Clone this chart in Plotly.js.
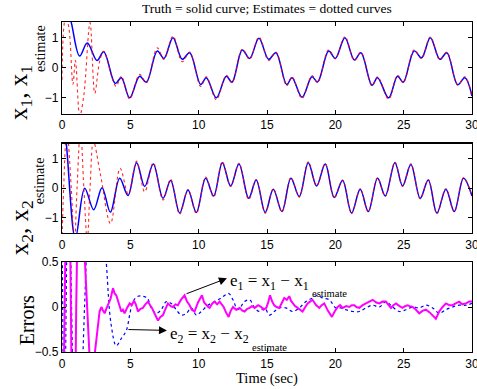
<!DOCTYPE html>
<html>
<head>
<meta charset="utf-8">
<script src="https://cdn.plot.ly/plotly-3.0.1.min.js"></script>
<style>html,body{margin:0;padding:0;background:#fff;}#chart{width:477px;height:389px;}</style>
</head>
<body>
<div id="chart"></div>
<script>
// ---- Subplot 1: x1 truth and estimate ----
const t_x1 = [0,0.3,0.68,1.29,1.85,2.56,3.05,3.9,4.34,4.95,5.68,6.17,6.97,7.46,8.12,8.8,9.34,10.15,10.56,11.29,12.02,12.44,13.19,13.73,14.41,15.12,15.65,16.44,16.83,17.56,18.29,18.7,19.51,20.0,20.7,21.39,21.87,22.68,23.09,23.9,24.55,24.97,25.77,26.31,26.95,27.65,28.16,28.95,29.48,30.0];
const x1_truth = [2.4,2.1,1.5,0.39,0.82,0.24,0.53,-0.52,-0.33,-1.0,-0.28,-0.48,0.56,0.31,1.0,0.28,0.5,-0.56,-0.33,-1.0,-0.28,-0.48,0.59,0.31,0.98,0.28,0.5,-0.56,-0.33,-0.98,-0.3,-0.47,0.56,0.31,1.0,0.26,0.5,-0.58,-0.33,-1.0,-0.28,-0.48,0.56,0.33,1.0,0.28,0.5,-0.56,-0.33,-0.94];
const t_x1e = [0,0.25,0.45,0.8,0.98,1.3,1.6,2.05,2.4,2.75,3.05,3.95,4.34,4.95,5.68,6.17,6.97,7.46,8.12,8.8,9.34,10.15,10.56,11.29,12.02,12.44,13.19,13.73,14.41,15.12,15.65,16.44,16.83,17.56,18.29,18.7,19.51,20.0,20.7,21.39,21.87,22.68,23.09,23.9,24.55,24.97,25.77,26.31,26.95,27.65,28.16,28.95,29.48,30.0];
const x1_est = [-0.4,1.6,1.45,-0.55,0.25,-1.6,-0.9,1.5,-0.85,0.2,0.55,-0.62,-0.28,-1.04,-0.22,-0.5,0.66,0.28,1.05,0.2,0.52,-0.62,-0.3,-1.06,-0.25,-0.5,0.62,0.28,1.02,0.24,0.52,-0.6,-0.3,-1.02,-0.26,-0.5,0.6,0.3,1.03,0.24,0.52,-0.6,-0.3,-1.04,-0.25,-0.5,0.6,0.3,1.03,0.26,0.52,-0.58,-0.3,-0.96];

// ---- Subplot 2: x2 truth and estimate ----
const t_x2 = [0,0.32,0.98,1.66,2.32,2.93,3.54,4.22,4.83,5.46,6.05,6.68,7.39,7.95,8.61,9.22,9.83,10.51,11.1,11.73,12.34,12.95,13.66,14.21,14.87,15.46,16.09,16.75,17.36,18.02,18.63,19.26,19.92,20.53,21.19,21.82,22.41,23.09,23.65,24.36,24.92,25.53,26.21,26.8,27.43,28.09,28.7,29.38,30.0];
const x2_truth = [2.8,1.5,-1.7,0.0,-0.73,0.02,-0.81,0.34,-0.25,0.87,0.06,0.82,-0.34,0.26,-0.84,-0.06,-0.82,0.34,-0.26,0.87,0.08,0.82,-0.34,0.28,-0.82,-0.03,-0.79,0.34,-0.28,0.87,0.08,0.82,-0.31,0.26,-0.84,-0.03,-0.79,0.34,-0.26,0.87,0.08,0.81,-0.34,0.28,-0.84,-0.03,-0.79,0.34,-0.26];
const t_x2e = [0,0.12,0.35,0.68,0.9,1.1,1.35,1.6,1.85,2.05,2.3,2.8,3.55,4.25,4.85,5.46,6.05,6.68,7.39,7.95,8.61,9.22,9.83,10.51,11.1,11.73,12.34,12.95,13.66,14.21,14.87,15.46,16.09,16.75,17.36,18.02,18.63,19.26,19.92,20.53,21.19,21.82,22.41,23.09,23.65,24.36,24.92,25.53,26.21,26.8,27.43,28.09,28.7,29.38,30.0];
const x2_est = [-1.8,0,2.0,0,-2.0,0,2.0,0,-1.8,0,1.6,0.5,-1.2,0.68,-0.2,0.92,-0.12,0.86,-0.4,0.3,-0.88,-0.04,-0.86,0.38,-0.3,0.9,0.06,0.85,-0.38,0.3,-0.85,-0.02,-0.8,0.36,-0.3,0.9,0.08,0.84,-0.33,0.28,-0.86,-0.02,-0.8,0.36,-0.28,0.89,0.07,0.83,-0.36,0.3,-0.86,-0.02,-0.8,0.36,-0.28];

// ---- Subplot 3: errors ----
const t_e1 = [0,0.2,0.43,0.65,0.85,1.04,1.3,1.68,2.0,2.2,2.41,2.75,2.88,3.0,3.12,3.24,3.36,3.55,3.73,3.85,3.97,4.15,4.34,4.46,4.58,4.76,4.95,5.1,5.27,5.4,5.56,5.74,5.92,6.1,6.29,6.45,6.58,6.8,7.02,7.2,7.39,7.55,7.75,7.95,8.12,8.3,8.48,8.7,8.97,9.15,9.34,9.5,9.7,9.95,10.24,10.4,10.56,10.7,10.8,11.0,11.17,11.35,11.53,11.7,11.83,12.0,12.19,12.35,12.51,12.75,13.0,13.2,13.36,13.55,13.73,13.9,14.1,14.35,14.58,14.75,14.95,15.1,15.22,15.38,15.53,15.7,15.9,16.1,16.26,16.45,16.63,16.75,16.87,17.05,17.24,17.4,17.6,17.8,17.97,18.15,18.33,18.6,18.83,19.0,19.19,19.45,19.75,19.95,20.17,20.35,20.53,20.8,21.02,21.2,21.39,21.55,21.75,22.0,22.24,22.5,22.73,23.0,23.22,23.45,23.7,23.9,24.07,24.25,24.44,24.7,24.92,25.1,25.29,25.45,25.65,25.9,26.14,26.4,26.63,26.9,27.12,27.24,27.36,27.48,27.6,27.85,28.09,28.35,28.58,28.8,29.06,29.3,29.55,29.8,30];
const e1 = [-2.5,0,3,0,-3,0,2.5,0.5,-0.5,-0.85,-0.5,-0.05,0.0,-0.04,-0.07,-0.02,0.02,0.09,0.21,0.15,0.13,0.05,-0.05,-0.03,-0.07,-0.01,0.04,0.02,0.07,0.03,-0.05,-0.02,-0.01,0.03,0.06,0.02,-0.01,-0.08,-0.15,-0.11,-0.09,-0.03,0.04,0.01,0.0,0.03,0.02,0.08,0.13,0.06,0.02,-0.03,-0.05,0.05,0.13,0.05,0.02,0.0,-0.01,0.04,0.06,0.03,0.06,0.02,0.0,-0.06,-0.11,-0.04,0.0,-0.03,-0.01,-0.04,-0.05,-0.02,-0.01,0.01,-0.01,0.02,0.0,-0.03,-0.01,0.06,0.13,0.06,0.02,0.0,-0.01,0.05,0.1,0.08,0.12,0.07,0.04,0.01,-0.01,-0.03,-0.05,0.0,0.04,0.06,0.08,0.02,-0.01,0.02,0.04,-0.04,-0.11,-0.05,0.0,0.02,-0.01,0.01,0.0,0.02,0.02,0.0,-0.01,0.02,0.04,0.06,0.08,0.05,0.04,0.06,0.06,0.02,-0.01,0.02,0.04,0.01,-0.01,0.01,0.02,0.01,0.0,-0.03,-0.07,-0.04,-0.03,-0.06,-0.09,-0.11,-0.13,-0.09,-0.05,0.0,0.04,0.02,0.02,0.04,0.06,0.03,0.04,0.06,0.06];
const t_e2 = [0,0.05,0.18,0.3,0.5,0.7,1.1,1.65,2.4,3.24,3.6,3.97,4.34,4.71,4.95,5.19,5.56,5.92,6.24,6.53,6.9,7.26,7.63,7.99,8.36,8.73,9.1,9.46,9.83,10.19,10.68,11.17,11.65,12.19,12.51,12.87,13.36,13.73,14.1,14.46,14.83,15.17,15.53,15.9,16.39,16.87,17.36,17.85,18.33,18.7,19.07,19.56,20.04,20.41,20.78,21.27,21.75,22.24,22.73,23.22,23.7,24.19,24.68,25.17,25.65,26.14,26.63,27.12,27.6,28.09,28.58,29.06,29.55,30];
const e2 = [2,0,-2,0,2,0,-2.5,0,2.5,0.5,-0.2,-0.43,-0.35,-0.26,-0.09,0.06,0.12,0.12,0.1,-0.01,-0.07,-0.03,0.06,0.04,-0.03,-0.09,-0.07,-0.01,-0.09,-0.05,0.02,0.06,0.1,0.15,0.08,-0.03,0.06,0.08,-0.01,-0.05,-0.01,-0.09,-0.05,-0.01,-0.01,-0.05,-0.01,0.06,0.1,0.13,0.1,0.08,-0.01,-0.01,-0.03,-0.05,-0.05,-0.01,0.02,0,0.06,0,-0.05,-0.03,0,-0.01,0.02,-0.01,-0.07,-0.03,0,0.02,0.02,0.04];

const xTicks = [0,5,10,15,20,25,30];
const yTicks12 = [-1,0,1];
const yTicks3 = [-0.5,0,0.5];
const yTickText3 = ['\u22120.5','0','0.5'];

const BLUE = '#0000ff', RED = '#ff0000', MAG = '#ff00ff';
const traces = [
  {x:t_x1, y:x1_truth, xaxis:'x', yaxis:'y', mode:'lines', line:{color:BLUE,width:1.5,shape:'spline'}},
  {x:t_x1e, y:x1_est, xaxis:'x', yaxis:'y', mode:'lines', line:{color:RED,width:1.1,dash:'dot',shape:'spline'}, opacity:0.85},
  {x:t_x2, y:x2_truth, xaxis:'x2', yaxis:'y2', mode:'lines', line:{color:BLUE,width:1.5,shape:'spline'}},
  {x:t_x2e, y:x2_est, xaxis:'x2', yaxis:'y2', mode:'lines', line:{color:RED,width:1.1,dash:'dot',shape:'spline'}, opacity:0.85},
  {x:t_e2, y:e2, xaxis:'x3', yaxis:'y3', mode:'lines', line:{color:BLUE,width:1.2,dash:'dot',shape:'spline'}},
  {x:t_e1, y:e1, xaxis:'x3', yaxis:'y3', mode:'lines', line:{color:MAG,width:2,shape:'linear'}}
];

const tickFont = {family:'Liberation Sans, Arial, sans-serif', size:12, color:'#000'};
function xax(anchor){return {domain:[0,1], anchor:anchor, range:[0,30], tickvals:xTicks, ticks:'inside', ticklen:4, tickcolor:'#000', showline:true, mirror:'ticks', linecolor:'#000', linewidth:1.2, showgrid:false, zeroline:false, tickfont:tickFont, ticklabeloverflow:'allow', fixedrange:true};}
function yax(anchor, dom, rng, tv, tt){const a={domain:dom, anchor:anchor, range:rng, tickvals:tv, ticks:'inside', ticklen:4, tickcolor:'#000', showline:true, mirror:'ticks', linecolor:'#000', linewidth:1.2, showgrid:false, zeroline:false, tickfont:tickFont, fixedrange:true}; if(tt) a.ticktext=tt; return a;}

const serif = 'Liberation Serif, Times New Roman, serif';
const annotations = [
  {text:'Truth = solid curve; Estimates = dotted curves', xref:'paper', yref:'paper', x:0.5, y:1.042, xanchor:'center', yanchor:'middle', showarrow:false, font:{family:serif, size:13.5, color:'#000'}},
  {text:'Time (sec)', xref:'paper', yref:'paper', x:0.5, y:-0.079, xanchor:'center', yanchor:'middle', showarrow:false, font:{family:serif, size:14.5, color:'#000'}},
  {text:'x<sub>1</sub>, x<sub>1</sub>', textangle:-90, xref:'paper', yref:'paper', x:-0.1, y:0.785, xanchor:'center', yanchor:'middle', showarrow:false, font:{family:serif, size:25, color:'#000'}},
  {text:'estimate', textangle:-90, xref:'paper', yref:'paper', x:-0.054, y:0.921, xanchor:'center', yanchor:'middle', showarrow:false, font:{family:serif, size:14, color:'#000'}},
  {text:'x<sub>2</sub>, x<sub>2</sub>', textangle:-90, xref:'paper', yref:'paper', x:-0.1, y:0.375, xanchor:'center', yanchor:'middle', showarrow:false, font:{family:serif, size:25, color:'#000'}},
  {text:'estimate', textangle:-90, xref:'paper', yref:'paper', x:-0.054, y:0.52, xanchor:'center', yanchor:'middle', showarrow:false, font:{family:serif, size:14, color:'#000'}},
  {text:'Errors', textangle:-90, xref:'paper', yref:'paper', x:-0.085, y:0.097, xanchor:'center', yanchor:'middle', showarrow:false, font:{family:serif, size:20, color:'#000'}},
  {text:'', xref:'x3', yref:'y3', x:12.07, y:0.319, axref:'x3', ayref:'y3', ax:9.0, ay:0.141, showarrow:true, arrowhead:2, arrowsize:1.6, arrowwidth:1, arrowcolor:'#000', standoff:0, startstandoff:0},
  {text:'', xref:'x3', yref:'y3', x:7.68, y:-0.26, axref:'x3', ayref:'y3', ax:4.75, ay:-0.25, showarrow:true, arrowhead:2, arrowsize:1.6, arrowwidth:1, arrowcolor:'#000', standoff:0, startstandoff:0},
  {text:'e<sub>1</sub> = x<sub>1</sub> \u2212 x<sub>1</sub>', xref:'x3', yref:'y3', x:12.14, y:0.28, xanchor:'left', yanchor:'middle', showarrow:false, font:{family:serif, size:17, color:'#000'}},
  {text:'estimate', xref:'x3', yref:'y3', x:19.6, y:0.147, xanchor:'center', yanchor:'middle', showarrow:false, font:{family:serif, size:10.5, color:'#000'}},
  {text:'e<sub>2</sub> = x<sub>2</sub> \u2212 x<sub>2</sub>', xref:'x3', yref:'y3', x:7.75, y:-0.31, xanchor:'left', yanchor:'middle', showarrow:false, font:{family:serif, size:17, color:'#000'}},
  {text:'estimate', xref:'x3', yref:'y3', x:15.2, y:-0.453, xanchor:'center', yanchor:'middle', showarrow:false, font:{family:serif, size:10.5, color:'#000'}}
];

const layout = {
  width:477, height:389,
  margin:{l:62, r:5, t:22, b:37, pad:0},
  paper_bgcolor:'#fff', plot_bgcolor:'#fff',
  showlegend:false,
  xaxis:xax('y'), xaxis2:xax('y2'), xaxis3:xax('y3'),
  yaxis:yax('x',[0.7227,1],[-1.52,1.52],yTicks12),
  yaxis2:yax('x2',[0.3606,0.6318],[-1.52,1.52],yTicks12),
  yaxis3:yax('x3',[0,0.2727],[-0.5,0.5],yTicks3,yTickText3),
  annotations:annotations
};

Plotly.newPlot('chart', traces, layout, {staticPlot:true, displayModeBar:false});
</script>
</body>
</html>
